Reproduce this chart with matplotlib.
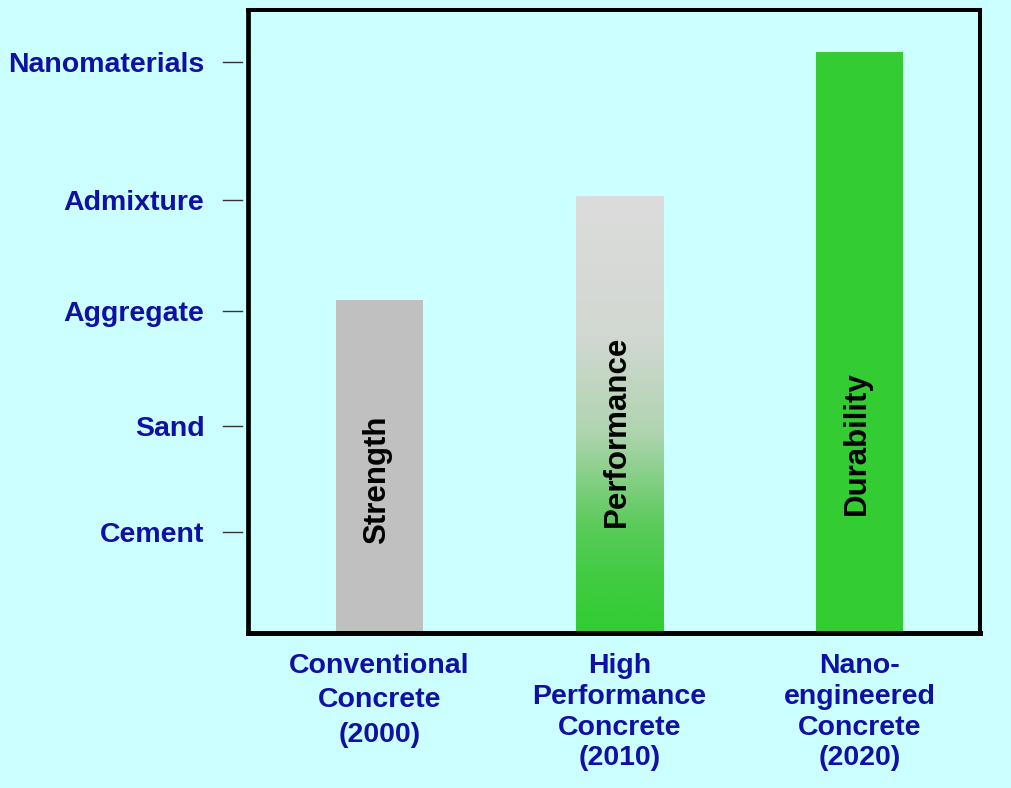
import numpy as np
import matplotlib
matplotlib.use("Agg")
import matplotlib.pyplot as plt
from matplotlib.colors import LinearSegmentedColormap
import matplotlib.transforms as mtransforms

# ---- data ----
categories = ["Conventional\nConcrete\n(2000)",
              "High\nPerformance\nConcrete\n(2010)",
              "Nano-\nengineered\nConcrete\n(2020)"]
bar_values = [53.5, 70.2, 93.3]
bar_labels = ["Strength", "Performance", "Durability"]
bar_label_pos = [24.6, 32.4, 30.5]
level_names = ["Cement", "Sand", "Aggregate", "Admixture", "Nanomaterials"]
level_values = [16.3, 33.2, 51.7, 69.5, 91.7]

BG = "#CCFFFF"
BLUE = "#1010A6"
GRAY = "#C0C0C0"
GREEN = "#33CC33"

plt.rcParams['font.family'] = ['Liberation Sans', 'DejaVu Sans']

fig = plt.figure(figsize=(10.12, 7.88), dpi=100, facecolor=BG)
ax = fig.add_axes([0.2446, 0.1961, 0.7238, 0.7912])
ax.set_facecolor(BG)

x = np.arange(len(categories))
width = 0.3625
bars = ax.bar(x, bar_values, width=width, color=[GRAY, 'none', GREEN],
              edgecolor='none', zorder=2)

# gradient fill for the middle bar (gray at top -> green at bottom)
cmap = LinearSegmentedColormap.from_list(
    "grad", [(0.0, "#33CC33"), (0.12, "#40CC40"), (0.25, "#5CCB5C"),
             (0.46, "#B0D4B0"), (0.68, "#D2D8D2"), (1.0, "#DCDCDC")])
grad = np.linspace(0, 1, 256).reshape(-1, 1)
b = bars[1]
im = ax.imshow(grad, cmap=cmap, origin='lower', aspect='auto',
               extent=[b.get_x(), b.get_x() + b.get_width(), 0, b.get_height()],
               zorder=2, interpolation='bilinear')
im.set_clip_path(b)

for xi, lbl, yp in zip(x, bar_labels, bar_label_pos):
    ax.text(xi - 0.01, yp, lbl, rotation=90, ha='center', va='center',
            fontsize=22.5, fontweight='bold', color='black', zorder=3)

ax.set_xlim(-0.55, 2.502)
ax.set_ylim(0, 100)

# spines
for side, lw in [('left', 3.4), ('bottom', 3.6), ('top', 2.9), ('right', 2.9)]:
    ax.spines[side].set_linewidth(lw)
    ax.spines[side].set_color('black')

# y ticks (short detached marks)
ax.set_yticks(level_values)
ax.set_yticklabels(level_names, fontsize=20.5, fontweight='bold', color=BLUE)
ax.tick_params(axis='y', length=0, pad=31)
trans = mtransforms.blended_transform_factory(ax.transAxes, ax.transData)
for yv in level_values:
    ax.plot([-0.0334, -0.0075], [yv, yv], transform=trans, color='#333333',
            lw=1.0, clip_on=False)

# x ticks
ax.set_xticks(x)
ax.set_xticklabels(categories, fontsize=20.5, fontweight='bold', color=BLUE)
ax.tick_params(axis='x', length=0, pad=14)
spacings = [1.42, 1.24, 1.24]
for t, s in zip(ax.get_xticklabels(), spacings):
    t.set_linespacing(s)

fig.savefig("out.png", dpi=100, facecolor=BG)
